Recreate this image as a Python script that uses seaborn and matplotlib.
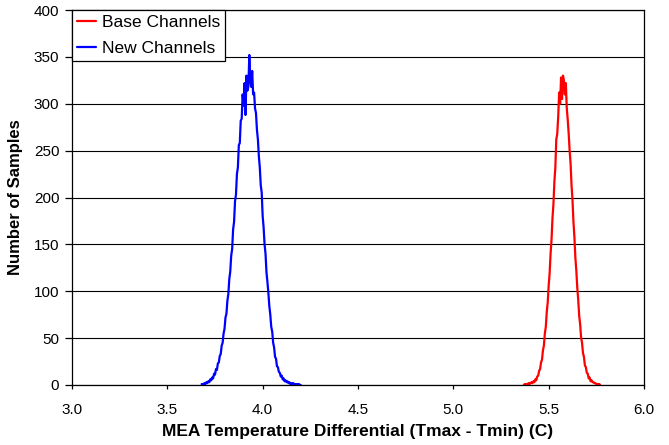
import numpy as np
import pandas as pd
import matplotlib
matplotlib.use("Agg")
import matplotlib.pyplot as plt
import seaborn as sns

# ---- data ----
new_x_start, new_step = 3.680, 0.005
new_counts = [1, 0, 1, 2, 1, 3, 2, 4, 3, 6,
              5, 8, 7, 12, 11, 17, 16, 23, 24, 31,
              33, 42, 45, 55, 60, 72, 76, 90, 97, 113,
              121, 138, 145, 166, 174, 196, 203, 225, 232, 256,
              258, 282, 284, 310, 298, 322, 288, 330, 314, 318,
              352, 326, 318, 335, 310, 312, 295, 290, 272, 262,
              244, 232, 213, 205, 180, 168, 150, 140, 120, 110,
              98, 84, 75, 62, 57, 45, 40, 30, 28, 20,
              19, 14, 13, 9, 10, 6, 7, 4, 5, 3,
              4, 2, 3, 1, 2, 1, 2, 1, 1, 0,
              1, 0, 1, 0, 0]
base_x_start, base_step = 5.370, 0.005
base_counts = [0, 1, 0, 1, 1, 2, 1, 2, 3, 2,
               4, 3, 6, 5, 9, 10, 15, 17, 24, 27,
               37, 42, 55, 62, 78, 88, 106, 119, 140, 155,
               178, 193, 217, 232, 262, 268, 286, 312, 300, 328,
               305, 330, 325, 310, 322, 295, 283, 268, 250, 236,
               213, 197, 174, 158, 136, 122, 104, 91, 74, 65,
               51, 45, 34, 30, 21, 19, 13, 12, 7, 8,
               4, 5, 3, 3, 2, 2, 1, 1, 0, 1, 0]
series_names = ["Base Channels", "New Channels"]
series_colors = ["#FF0000", "#0000FF"]
x_ticks = [3.0, 3.5, 4.0, 4.5, 5.0, 5.5, 6.0]
y_ticks = [0, 50, 100, 150, 200, 250, 300, 350, 400]

new_x = [round(new_x_start + new_step * i, 4) for i in range(len(new_counts))]
base_x = [round(base_x_start + base_step * i, 4) for i in range(len(base_counts))]

df = pd.concat([
    pd.DataFrame({"x": base_x, "y": base_counts, "series": series_names[0]}),
    pd.DataFrame({"x": new_x, "y": new_counts, "series": series_names[1]}),
], ignore_index=True)

sns.set_style("white")
plt.rcParams['font.family'] = ['Liberation Sans', 'DejaVu Sans']
plt.rcParams.update({"text.color": "black", "axes.labelcolor": "black",
                     "xtick.color": "black", "ytick.color": "black"})

fig = plt.figure(figsize=(6.69, 4.45), dpi=100)
ax = fig.add_axes([72 / 669, 60 / 445, 572 / 669, 375 / 445])

sns.lineplot(data=df, x="x", y="y", hue="series", hue_order=series_names,
             palette=series_colors, estimator=None, sort=False,
             linewidth=1.6, ax=ax)

ax.set_xlim(3.0, 6.0)
ax.set_ylim(0, 400)
ax.set_xticks(x_ticks)
ax.set_xticklabels([f"{t:.1f}" for t in x_ticks])
ax.set_yticks(y_ticks)
ax.yaxis.grid(True, color="black", linewidth=0.8)
ax.xaxis.grid(False)
ax.set_axisbelow(True)
for s in ax.spines.values():
    s.set_color("black")
    s.set_linewidth(0.9)
ax.tick_params(axis="both", direction="out", width=0.9, color="black",
               labelcolor="black", labelsize=11, bottom=True, left=True)
ax.tick_params(axis="x", length=3.2, pad=9.5)
ax.tick_params(axis="y", length=4.8, pad=4.3)

ax.set_xlabel("MEA Temperature Differential (Tmax - Tmin) (C)",
              fontsize=12.5, fontweight="bold", labelpad=5)
ax.set_ylabel("Number of Samples", fontsize=12, fontweight="bold", labelpad=8)

leg = ax.legend(loc="upper left", borderaxespad=0, fancybox=False,
                framealpha=1, edgecolor="black", fontsize=12.5,
                handlelength=1.1, handletextpad=0.3, borderpad=0.3,
                labelspacing=0.6)
leg.get_frame().set_linewidth(0.9)
for t in leg.get_texts():
    t.set_color("black")

fig.savefig("out.png", dpi=100)
